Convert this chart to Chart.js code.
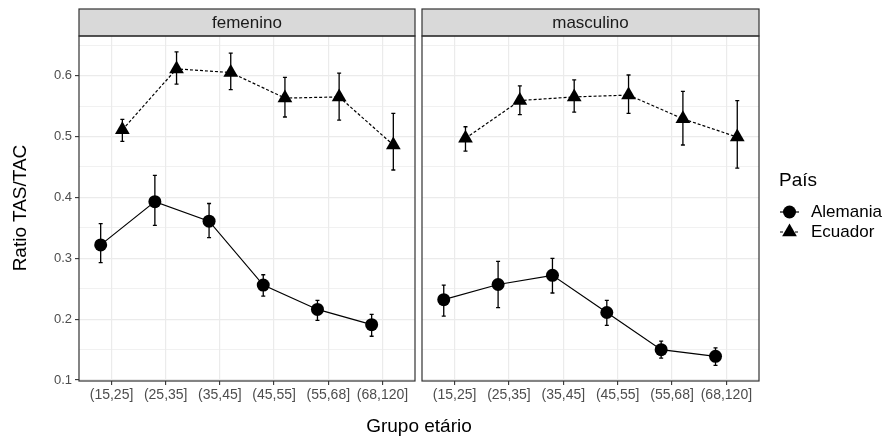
<!DOCTYPE html>
<html>
<head>
<meta charset="utf-8">
<script src="https://cdn.jsdelivr.net/npm/chart.js@4.4.1/dist/chart.umd.min.js"></script>
<style>
  body { margin: 0; background: #fff; }
  #wrap { position: relative; width: 890px; height: 443px; font-family: 'Liberation Sans', Arial, sans-serif; }
  #wrap canvas.panel { position: absolute; left: 0; top: 0; }
  .txt { position: absolute; white-space: nowrap; color: #000; }
  #xTitle { left: 319px; width: 200px; top: 415px; font-size: 19px; line-height: 22px; text-align: center; }
  #yTitle { left: -80px; width: 200px; top: 197px; font-size: 19px; line-height: 22px; text-align: center; transform: rotate(-90deg); }
  #legTitle { left: 779px; top: 169px; font-size: 19px; line-height: 22px; }
  .legItem { left: 811px; font-size: 17px; line-height: 20px; }
  #legKeys { position: absolute; left: 777px; top: 200px; }
</style>
</head>
<body>
<div id="wrap">
  <canvas class="panel" id="femenino" width="890" height="443"></canvas>
  <canvas class="panel" id="masculino" width="890" height="443"></canvas>
  <div class="txt" id="xTitle">Grupo etário</div>
  <div class="txt" id="yTitle">Ratio TAS/TAC</div>
  <div class="txt" id="legTitle">País</div>
  <canvas id="legKeys" width="26" height="44"></canvas>
  <div class="txt legItem" style="top:202px">Alemania</div>
  <div class="txt legItem" style="top:222px">Ecuador</div>
</div>
<script>
// age groups and tick values
const categories = ['(15,25]', '(25,35]', '(35,45]', '(45,55]', '(55,68]', '(68,120]'];
const yGridValues = [0.1, 0.15, 0.2, 0.25, 0.3, 0.35, 0.4, 0.45, 0.5, 0.55, 0.6, 0.65];

// femenino
const femAlemania     = [0.322, 0.393, 0.361, 0.256, 0.216, 0.191];
const femAlemaniaLow  = [0.293, 0.354, 0.334, 0.238, 0.198, 0.172];
const femAlemaniaHigh = [0.357, 0.436, 0.390, 0.273, 0.231, 0.208];
const femEcuador      = [0.511, 0.611, 0.605, 0.563, 0.565, 0.486];
const femEcuadorLow   = [0.492, 0.586, 0.577, 0.532, 0.527, 0.445];
const femEcuadorHigh  = [0.528, 0.639, 0.637, 0.597, 0.604, 0.538];

// masculino
const mascAlemania     = [0.232, 0.257, 0.272, 0.211, 0.150, 0.139];
const mascAlemaniaLow  = [0.205, 0.219, 0.243, 0.190, 0.136, 0.124];
const mascAlemaniaHigh = [0.256, 0.295, 0.300, 0.231, 0.164, 0.153];
const mascEcuador      = [0.497, 0.559, 0.565, 0.568, 0.529, 0.499];
const mascEcuadorLow   = [0.476, 0.536, 0.540, 0.538, 0.486, 0.448];
const mascEcuadorHigh  = [0.516, 0.583, 0.593, 0.601, 0.574, 0.559];

const Y_MIN = 0.0985;
const Y_MAX = 0.665;
const DODGE = 0.2;
const FONT = "'Liberation Sans', Arial, sans-serif";

const isMajor = v => Math.abs(v * 10 - Math.round(v * 10)) < 1e-6;

// error bars under the points
const errorBars = {
    id: 'errorBars',
    beforeDatasetsDraw(chart) {
        const ctx = chart.ctx;
        const y = chart.scales.y;
        ctx.save();
        ctx.strokeStyle = '#000';
        ctx.lineWidth = 1.3;
        chart.data.datasets.forEach((ds, di) => {
            chart.getDatasetMeta(di).data.forEach((pt, i) => {
                const lo = y.getPixelForValue(ds.errLow[i]);
                const hi = y.getPixelForValue(ds.errHigh[i]);
                ctx.beginPath();
                ctx.moveTo(pt.x, lo); ctx.lineTo(pt.x, hi);
                ctx.moveTo(pt.x - 2, lo); ctx.lineTo(pt.x + 2, lo);
                ctx.moveTo(pt.x - 2, hi); ctx.lineTo(pt.x + 2, hi);
                ctx.stroke();
            });
        });
        ctx.restore();
    }
};

// panel border + facet strip
const facetFrame = {
    id: 'facetFrame',
    afterDraw(chart, args, opts) {
        const { ctx, chartArea: a } = chart;
        ctx.save();
        ctx.fillStyle = '#D9D9D9';
        ctx.fillRect(a.left, 9, a.right - a.left, a.top - 9);
        ctx.strokeStyle = '#333333';
        ctx.lineWidth = 1.2;
        ctx.strokeRect(a.left, 9, a.right - a.left, a.top - 9);
        ctx.strokeRect(a.left, a.top, a.right - a.left, a.bottom - a.top);
        ctx.fillStyle = '#1A1A1A';
        ctx.font = '17px ' + FONT;
        ctx.textAlign = 'center';
        ctx.textBaseline = 'middle';
        ctx.fillText(opts.title, (a.left + a.right) / 2, (9 + a.top) / 2 + 1);
        ctx.restore();
    }
};

function series(label, values, low, high, offset, style, dash, radius) {
    return {
        label: label,
        data: values.map((v, i) => ({ x: i + offset, y: v })),
        errLow: low,
        errHigh: high,
        showLine: true,
        borderColor: '#000',
        backgroundColor: '#000',
        borderWidth: 1.2,
        borderDash: dash,
        pointStyle: style,
        pointRadius: radius,
        pointBorderWidth: 0,
        pointBackgroundColor: '#000'
    };
}

function makePanel(id, title, alem, alemLow, alemHigh, ecu, ecuLow, ecuHigh, left, right, showY) {
    return new Chart(document.getElementById(id), {
        type: 'scatter',
        data: {
            datasets: [
                series('Alemania', alem, alemLow, alemHigh, -DODGE, 'circle', [], 6.5),
                series('Ecuador', ecu, ecuLow, ecuHigh, DODGE, 'triangle', [3, 2], 8.5)
            ]
        },
        options: {
            responsive: false,
            animation: false,
            events: [],
            layout: { padding: { left: 0, right: 890 - right, top: 36, bottom: 32 } },
            plugins: {
                legend: { display: false },
                tooltip: { enabled: false },
                facetFrame: { title: title }
            },
            scales: {
                x: {
                    type: 'linear',
                    min: -0.6,
                    max: 5.6,
                    afterBuildTicks: s => { s.ticks = categories.map((c, i) => ({ value: i })); },
                    afterFit: s => { s.height = 30; },
                    ticks: {
                        callback: (v, i) => categories[i],
                        color: '#4D4D4D',
                        font: { family: FONT, size: 14 },
                        padding: 2,
                        maxRotation: 0,
                        autoSkip: false
                    },
                    grid: { color: '#EBEBEB', lineWidth: 1.2, tickColor: '#333333', tickLength: 4, tickWidth: 1.1 },
                    border: { display: false }
                },
                y: {
                    type: 'linear',
                    min: Y_MIN,
                    max: Y_MAX,
                    afterBuildTicks: s => { s.ticks = yGridValues.map(v => ({ value: v })); },
                    afterFit: s => { s.width = left; },
                    ticks: {
                        display: showY,
                        callback: v => isMajor(v) ? v.toFixed(1) : '',
                        color: '#4D4D4D',
                        font: { family: FONT, size: 13 },
                        padding: 3
                    },
                    grid: {
                        color: '#EBEBEB',
                        lineWidth: c => isMajor(c.tick.value) ? 1.2 : 0.7,
                        drawTicks: showY,
                        tickColor: c => isMajor(c.tick.value) ? '#333333' : 'rgba(0,0,0,0)',
                        tickLength: 4,
                        tickWidth: 1.1
                    },
                    border: { display: false }
                }
            }
        },
        plugins: [errorBars, facetFrame]
    });
}

makePanel('femenino', 'femenino', femAlemania, femAlemaniaLow, femAlemaniaHigh,
          femEcuador, femEcuadorLow, femEcuadorHigh, 79, 415, true);
makePanel('masculino', 'masculino', mascAlemania, mascAlemaniaLow, mascAlemaniaHigh,
          mascEcuador, mascEcuadorLow, mascEcuadorHigh, 422, 759, false);

// legend keys: line + point
const kctx = document.getElementById('legKeys').getContext('2d');
[['circle', 6.5, [], 12], ['triangle', 8.5, [3, 2], 32]].forEach(([style, r, dash, cy]) => {
    kctx.strokeStyle = '#000';
    kctx.lineWidth = 1.2;
    kctx.setLineDash(dash);
    kctx.beginPath();
    kctx.moveTo(3, cy); kctx.lineTo(22, cy);
    kctx.stroke();
    kctx.setLineDash([]);
    kctx.fillStyle = '#000';
    Chart.helpers.drawPoint(kctx, { pointStyle: style, radius: r, borderWidth: 0 }, 12.5, cy);
});
</script>
</body>
</html>
